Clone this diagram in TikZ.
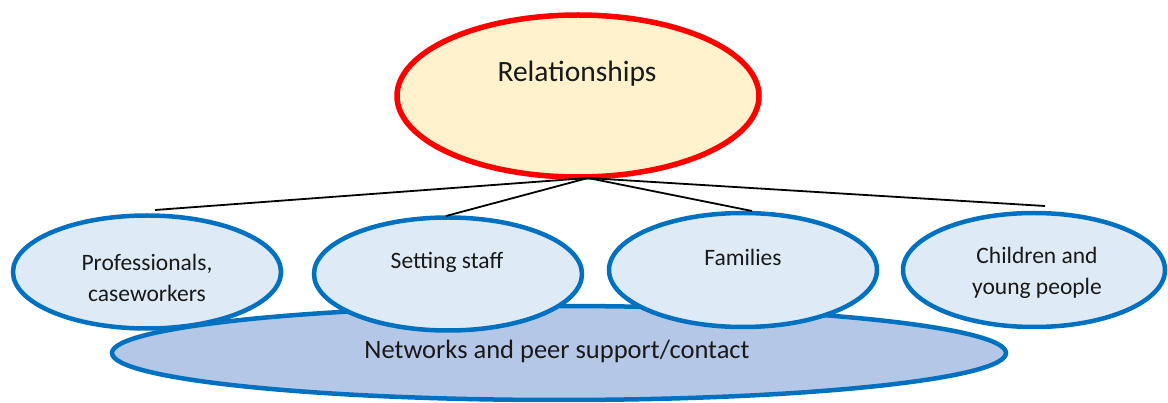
\documentclass[tikz,border=0pt]{standalone}
\usepackage{fontspec}
\setmainfont{Carlito}
\usetikzlibrary{shapes.geometric}
\definecolor{rborder}{HTML}{FF0000}
\definecolor{rfill}{HTML}{FFF2CC}
\definecolor{bborder}{HTML}{0070C0}
\definecolor{bfill}{HTML}{DEEBF7}
\definecolor{bigfill}{HTML}{B4C7E7}
\tikzset{
  oval/.style={ellipse, inner sep=0pt, draw=bborder, line width=4.5pt, fill=bfill},
  lbl/.style={inner sep=0pt, align=center, font=\fontsize{23.5}{31.5}\selectfont, text=black!90},
  conn/.style={draw=black, line width=1.8pt}
}
\begin{document}
\begin{tikzpicture}[x=1pt,y=-1pt]
\useasboundingbox (0,0) rectangle (1168,403);
% big ellipse
\node[oval, fill=bigfill, minimum width=894pt, minimum height=94pt] (net) at (559,353) {};
\node[lbl, font=\fontsize{26.5}{30}\selectfont] (nett) at (557,351) {Networks and peer support/contact};
% top ellipse
\node[ellipse, inner sep=0pt, draw=rborder, fill=rfill, line width=5.5pt, minimum width=362pt, minimum height=162pt] (rel) at (578,96) {};
\node[lbl, font=\fontsize{29.5}{34}\selectfont] (relt) at (577,74) {Relationships};
% small ellipses
\node[oval, minimum width=268pt, minimum height=113pt] (prof) at (147,272) {};
\node[oval, minimum width=268pt, minimum height=113pt] (set) at (448,274) {};
\node[oval, minimum width=268pt, minimum height=114pt] (fam) at (743,270) {};
\node[oval, minimum width=262pt, minimum height=114pt] (chi) at (1034,270) {};
\node[lbl] (proft) at (147,278) {Professionals,\\caseworkers};
\node[lbl] (sett) at (447,262) {Setting staff};
\node[lbl] (famt) at (743,257) {Families};
\node[lbl] (chit) at (1037,273) {Children and\\young people};
% connectors
\coordinate (hub) at (588,178);
\coordinate (e1) at (155,210);
\coordinate (e2) at (446,216);
\coordinate (e3) at (752,211);
\coordinate (e4) at (1045,206);
\draw[conn] (hub) -- (e1);
\draw[conn] (hub) -- (e2);
\draw[conn] (hub) -- (e3);
\draw[conn] (hub) -- (e4);
\end{tikzpicture}
\end{document}
